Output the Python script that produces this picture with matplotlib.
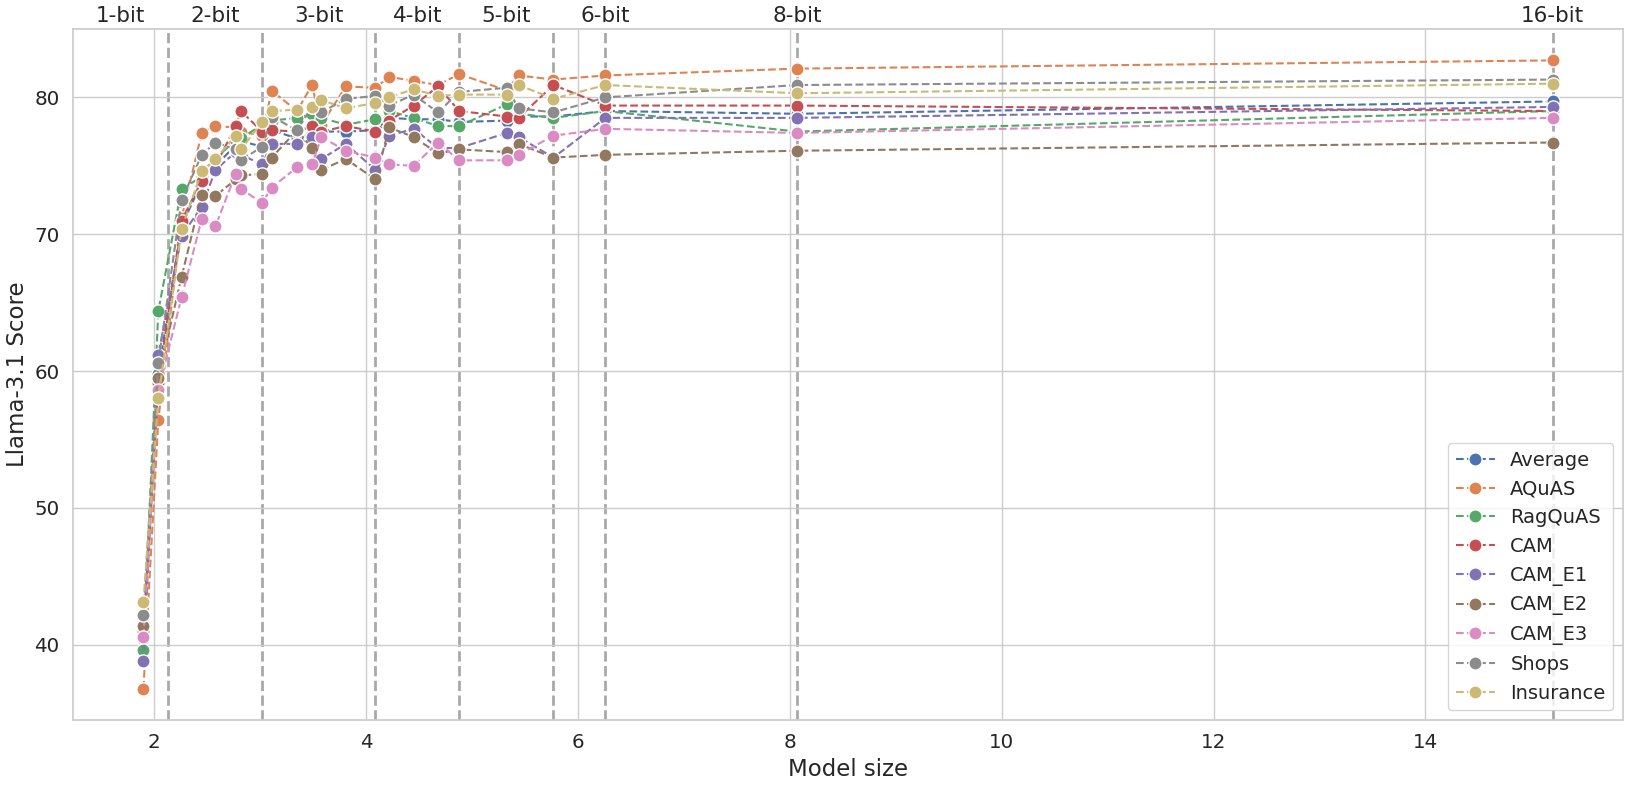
import matplotlib
matplotlib.use("Agg")
import matplotlib.pyplot as plt
import matplotlib.transforms as mtransforms
import seaborn as sns

# model sizes (x positions shared by all series)
model_size = [1.90, 2.04, 2.26, 2.45, 2.58, 2.77, 2.82, 3.02, 3.11, 3.35, 3.49, 3.58,
              3.81, 4.09, 4.22, 4.45, 4.68, 4.88, 5.33, 5.44, 5.77, 6.26, 8.07, 15.2]

average = [40.4, 59.8, 70.6, 73.8, 75.0, 76.5, 76.8, 76.4, 77.6, 77.0, 77.3, 77.5,
           77.5, 77.6, 78.5, 78.4, 78.4, 78.2, 78.3, 78.6, 78.6, 79.0, 78.8, 79.7]
aquas = [36.8, 56.4, 71.2, 77.4, 77.9, 77.8, 77.5, 77.2, 80.5, 79.0, 80.9, 78.0,
         80.8, 80.7, 81.5, 81.2, 80.9, 81.7, 80.5, 81.6, 81.3, 81.6, 82.1, 82.7]
ragquas = [39.6, 64.4, 73.3, 74.2, 75.6, 76.8, 77.0, 78.0, 78.3, 78.5, 78.8, 78.5,
           78.0, 78.4, 79.0, 78.5, 77.9, 77.9, 79.5, 78.8, 78.5, 79.0, 77.5, 79.0]
cam = [41.0, 59.1, 71.0, 73.9, 75.0, 77.9, 79.0, 77.5, 77.6, 77.5, 77.9, 77.5,
       77.9, 77.5, 78.3, 79.4, 80.8, 79.0, 78.6, 78.5, 80.9, 79.4, 79.4, 79.0]
cam_e1 = [38.8, 61.2, 69.9, 72.0, 74.7, 76.0, 75.8, 75.1, 76.6, 76.6, 77.1, 75.5,
          76.6, 74.7, 77.2, 77.7, 76.3, 76.3, 77.4, 77.1, 75.6, 78.5, 78.5, 79.3]
cam_e2 = [41.4, 59.5, 66.9, 72.9, 72.8, 74.0, 74.3, 74.4, 75.6, 77.6, 76.3, 74.7,
          75.5, 74.0, 77.8, 77.1, 75.9, 76.2, 76.0, 76.6, 75.6, 75.8, 76.1, 76.7]
cam_e3 = [40.6, 58.6, 65.4, 71.1, 70.6, 74.4, 73.3, 72.3, 73.4, 74.9, 75.1, 77.1,
          76.1, 75.6, 75.1, 75.0, 76.7, 75.4, 75.4, 75.8, 77.2, 77.7, 77.4, 78.5]
shops = [42.2, 60.6, 72.5, 75.8, 76.7, 76.2, 75.4, 76.4, 78.6, 77.6, 79.3, 78.9,
         79.9, 80.1, 79.4, 80.2, 78.9, 80.4, 80.7, 79.2, 78.9, 80.0, 80.9, 81.3]
insurance = [43.1, 58.0, 70.4, 74.6, 75.5, 77.2, 76.2, 78.2, 79.0, 79.1, 79.3, 79.8,
             79.2, 79.6, 80.0, 80.6, 80.1, 80.2, 80.2, 80.9, 79.9, 80.9, 80.3, 81.0]

series_names = ["Average", "AQuAS", "RagQuAS", "CAM", "CAM_E1", "CAM_E2", "CAM_E3",
                "Shops", "Insurance"]
series_values = [average, aquas, ragquas, cam, cam_e1, cam_e2, cam_e3, shops, insurance]

# quantization boundaries and bit labels
bit_lines = [2.13, 3.02, 4.09, 4.88, 5.77, 6.26, 8.07, 15.2]
bit_labels = ["1-bit", "2-bit", "3-bit", "4-bit", "5-bit", "6-bit", "8-bit", "16-bit"]

sns.set_theme(style="whitegrid", font_scale=1.3)
palette = sns.color_palette("deep")

fig, ax = plt.subplots(figsize=(16.33, 7.9), dpi=100)
fig.subplots_adjust(left=0.0447, right=0.9939, top=0.9633, bottom=0.0886)

for i, (name, vals) in enumerate(zip(series_names, series_values)):
    ax.plot(model_size, vals, linestyle="--", marker="o", color=palette[i],
            markersize=9.5, markeredgecolor="white", markeredgewidth=1.0,
            linewidth=1.5, label=name)

for xv in bit_lines:
    ax.axvline(xv, color="darkgray", linestyle="--", linewidth=2, zorder=0.5)

x0, x1 = ax.get_xlim()
label_pos = [(x0 + bit_lines[0]) / 2]
for a, b in zip(bit_lines[:4], bit_lines[1:5]):
    label_pos.append((a + b) / 2)
label_pos += bit_lines[5:]

trans = mtransforms.blended_transform_factory(ax.transData, ax.transAxes)
for xp, lab in zip(label_pos, bit_labels):
    ax.text(xp, 1.004, lab, transform=trans, ha="center", va="bottom", fontsize=15.5)

ax.set_xlabel("Model size", fontsize=16.5)
ax.set_ylabel("Llama-3.1 Score", fontsize=16.5)
ax.set_xlim(x0, x1)
ax.legend(loc="lower right", fontsize=14)

plt.savefig("out.png", dpi=100)
